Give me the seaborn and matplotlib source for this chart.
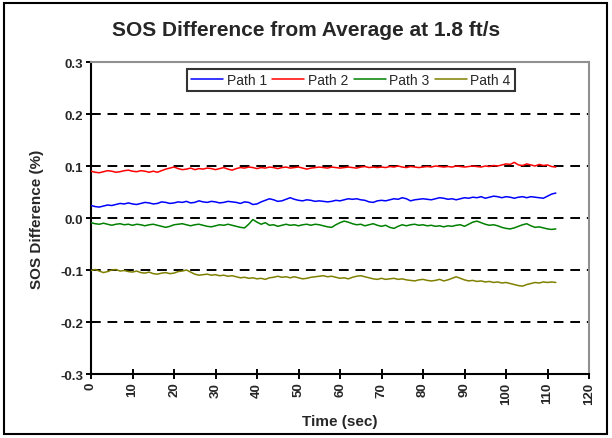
import numpy as np
import pandas as pd
import matplotlib
matplotlib.use("Agg")
import matplotlib.pyplot as plt
import seaborn as sns
from matplotlib.patches import Rectangle

# ---------------- data ----------------
time_sec = list(range(0, 113))

path1 = [0.024, 0.022, 0.021, 0.023, 0.025, 0.024, 0.026, 0.028, 0.027, 0.029,
         0.027, 0.026, 0.028, 0.030, 0.029, 0.027, 0.028, 0.031, 0.030, 0.028,
         0.029, 0.031, 0.030, 0.032, 0.029, 0.030, 0.033, 0.031, 0.030, 0.032,
         0.031, 0.029, 0.030, 0.032, 0.031, 0.030, 0.028, 0.031, 0.030, 0.026,
         0.027, 0.031, 0.034, 0.037, 0.035, 0.032, 0.033, 0.036, 0.039, 0.036,
         0.034, 0.033, 0.035, 0.034, 0.032, 0.033, 0.032, 0.031, 0.032, 0.034,
         0.033, 0.035, 0.037, 0.036, 0.037, 0.035, 0.034, 0.031, 0.030, 0.033,
         0.034, 0.033, 0.035, 0.037, 0.036, 0.039, 0.037, 0.033, 0.035, 0.036,
         0.037, 0.036, 0.035, 0.037, 0.039, 0.038, 0.036, 0.037, 0.035, 0.037,
         0.039, 0.038, 0.040, 0.039, 0.041, 0.038, 0.040, 0.042, 0.041, 0.039,
         0.041, 0.040, 0.038, 0.040, 0.041, 0.039, 0.041, 0.040, 0.039, 0.038,
         0.042, 0.046, 0.048]

path2 = [0.090, 0.088, 0.087, 0.089, 0.091, 0.090, 0.088, 0.089, 0.091, 0.092,
         0.090, 0.089, 0.091, 0.090, 0.088, 0.090, 0.088, 0.091, 0.094, 0.096,
         0.098, 0.095, 0.093, 0.094, 0.096, 0.093, 0.095, 0.094, 0.096, 0.095,
         0.093, 0.095, 0.097, 0.094, 0.092, 0.095, 0.097, 0.096, 0.098, 0.097,
         0.095, 0.097, 0.096, 0.098, 0.097, 0.095, 0.097, 0.098, 0.096, 0.097,
         0.098, 0.096, 0.094, 0.096, 0.097, 0.098, 0.097, 0.096, 0.098, 0.097,
         0.096, 0.097, 0.098, 0.097, 0.096, 0.098, 0.099, 0.097, 0.098, 0.097,
         0.098, 0.097, 0.099, 0.098, 0.100, 0.098, 0.097, 0.099, 0.098, 0.097,
         0.098, 0.099, 0.098, 0.100, 0.099, 0.098, 0.099, 0.098, 0.100, 0.099,
         0.098, 0.099, 0.100, 0.099, 0.098, 0.100, 0.099, 0.101, 0.100, 0.102,
         0.104, 0.103, 0.107, 0.102, 0.101, 0.104, 0.102, 0.100, 0.103, 0.101,
         0.102, 0.099, 0.098]

path3 = [-0.009, -0.011, -0.012, -0.010, -0.012, -0.014, -0.012, -0.011, -0.013, -0.012,
         -0.014, -0.012, -0.013, -0.015, -0.013, -0.012, -0.014, -0.016, -0.018, -0.016,
         -0.013, -0.012, -0.011, -0.013, -0.015, -0.013, -0.012, -0.014, -0.016, -0.017,
         -0.015, -0.013, -0.014, -0.012, -0.014, -0.016, -0.018, -0.019, -0.012, -0.003,
         -0.008, -0.012, -0.009, -0.014, -0.013, -0.016, -0.014, -0.012, -0.014, -0.013,
         -0.015, -0.013, -0.012, -0.014, -0.012, -0.013, -0.015, -0.017, -0.018, -0.013,
         -0.009, -0.006, -0.008, -0.011, -0.013, -0.012, -0.015, -0.013, -0.011, -0.014,
         -0.016, -0.014, -0.018, -0.020, -0.016, -0.013, -0.015, -0.013, -0.012, -0.014,
         -0.013, -0.015, -0.014, -0.016, -0.015, -0.017, -0.015, -0.016, -0.014, -0.013,
         -0.016, -0.012, -0.008, -0.006, -0.009, -0.012, -0.014, -0.013, -0.015, -0.018,
         -0.020, -0.021, -0.019, -0.016, -0.013, -0.011, -0.015, -0.018, -0.017, -0.019,
         -0.021, -0.022, -0.021]

path4 = [-0.101, -0.099, -0.102, -0.105, -0.103, -0.100, -0.099, -0.102, -0.101, -0.103,
         -0.104, -0.102, -0.105, -0.106, -0.104, -0.107, -0.108, -0.106, -0.105, -0.107,
         -0.106, -0.103, -0.102, -0.100, -0.104, -0.108, -0.110, -0.109, -0.108, -0.110,
         -0.109, -0.111, -0.110, -0.112, -0.111, -0.113, -0.115, -0.114, -0.116, -0.115,
         -0.117, -0.116, -0.118, -0.115, -0.114, -0.112, -0.114, -0.113, -0.115, -0.113,
         -0.115, -0.117, -0.116, -0.114, -0.113, -0.112, -0.111, -0.113, -0.112, -0.114,
         -0.116, -0.115, -0.117, -0.114, -0.112, -0.111, -0.113, -0.115, -0.117, -0.118,
         -0.116, -0.118, -0.117, -0.116, -0.118, -0.117, -0.119, -0.120, -0.121, -0.119,
         -0.118, -0.120, -0.121, -0.120, -0.118, -0.121, -0.119, -0.116, -0.113, -0.116,
         -0.119, -0.121, -0.120, -0.122, -0.121, -0.123, -0.122, -0.124, -0.123, -0.125,
         -0.124, -0.126, -0.128, -0.130, -0.131, -0.128, -0.126, -0.124, -0.125, -0.123,
         -0.124, -0.123, -0.124]

series_names = ["Path 1", "Path 2", "Path 3", "Path 4"]
series_colors = ["#0000FF", "#FF0000", "#008000", "#808000"]

y_ticks = [-0.3, -0.2, -0.1, 0.0, 0.1, 0.2, 0.3]
x_ticks = list(range(0, 121, 10))
grid_levels = [-0.2, -0.1, 0.0, 0.1, 0.2]

title = "SOS Difference from Average at 1.8 ft/s"
x_label = "Time (sec)"
y_label = "SOS Difference (%)"

# ---------------- build table ----------------
frames = []
for name, vals in zip(series_names, [path1, path2, path3, path4]):
    frames.append(pd.DataFrame({"Time": time_sec, "Value": vals, "Series": name}))
df = pd.concat(frames, ignore_index=True)

# ---------------- plot ----------------
sns.set_style("white")
plt.rcParams["font.family"] = ["Liberation Sans", "DejaVu Sans"]

fig = plt.figure(figsize=(6.12, 4.39), dpi=100)
ax = fig.add_axes([91 / 612, 1 - 375 / 439, (589 - 91) / 612, (375 - 63) / 439])

for yv in grid_levels:
    ax.axhline(yv, color="black", lw=1.4, ls=(0, (5, 3.5)), zorder=1)

sns.lineplot(data=df, x="Time", y="Value", hue="Series",
             palette=dict(zip(series_names, series_colors)),
             hue_order=series_names, lw=1.1, ax=ax, zorder=3, legend=True)

ax.set_xlim(0, 120)
ax.set_ylim(-0.3, 0.3)
ax.set_xticks(x_ticks)
ax.set_yticks(y_ticks)
ax.set_yticklabels([f"{v:.1f}" for v in y_ticks], fontsize=9.5, fontweight="bold")
ax.set_xticklabels([str(v) for v in x_ticks], fontsize=9.5, fontweight="bold", rotation=90)
ax.tick_params(axis="both", direction="inout", length=7, width=1.4, color="black",
               left=True, bottom=True, pad=2)

for s in ["left", "bottom"]:
    ax.spines[s].set_color("black")
    ax.spines[s].set_linewidth(1.5)
for s in ["top", "right"]:
    ax.spines[s].set_color("#909090")
    ax.spines[s].set_linewidth(1.5)

ax.set_xlabel(x_label, fontsize=11, fontweight="bold")
ax.set_ylabel(y_label, fontsize=11, fontweight="bold")
ax.xaxis.set_label_coords(0.5, -0.128)
ax.yaxis.set_label_coords(-0.094, 0.5)

leg = ax.legend(loc="upper center", bbox_to_anchor=(0.522, 0.978), ncol=4,
                fontsize=10, frameon=True, fancybox=False, handlelength=2.3,
                handletextpad=0.25, columnspacing=0.4, borderpad=0.3,
                borderaxespad=0.0)
leg.get_frame().set_edgecolor("black")
leg.get_frame().set_linewidth(1.5)

fig.text(0.5, 1 - 30 / 439, title, ha="center", va="center",
         fontsize=15, fontweight="bold")

fig.patches.append(Rectangle((4 / 612, 4 / 439), 603 / 612, 431 / 439,
                             transform=fig.transFigure, fill=False,
                             edgecolor="black", lw=1.5))

fig.savefig("out.png", dpi=100)
